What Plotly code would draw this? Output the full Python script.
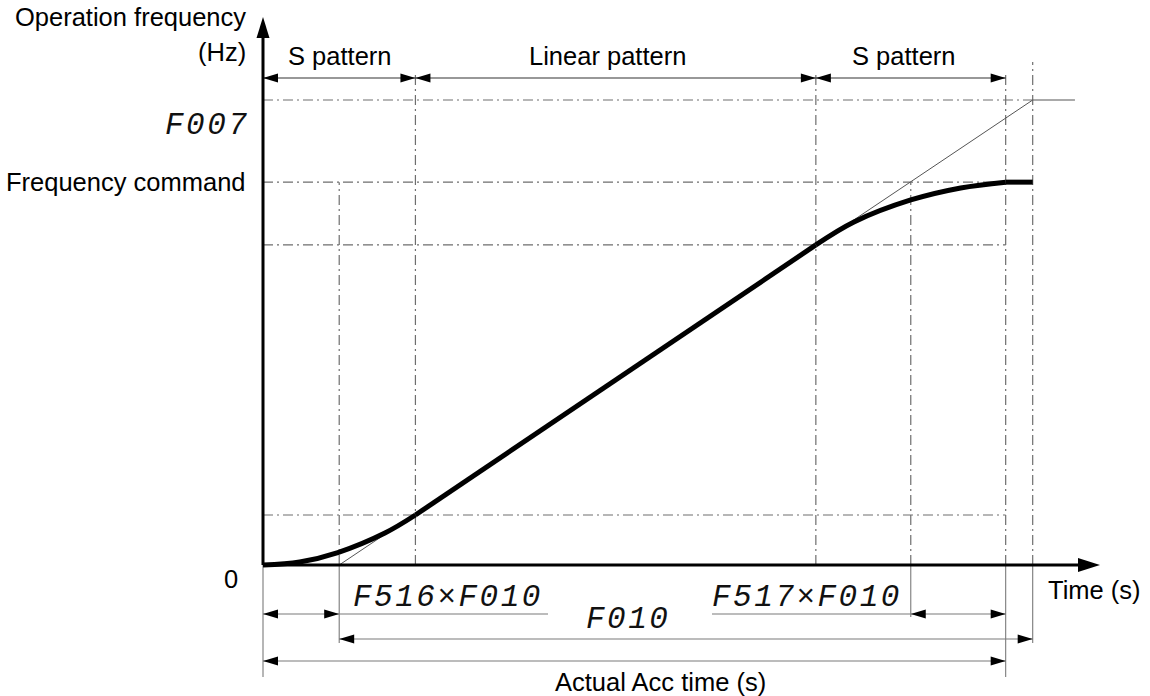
import plotly.graph_objects as go

# ---- acceleration profile: time (s) vs. output frequency (Hz) ----
accel_t = [0.0, 0.53, 1.08, 1.76, 2.20]
accel_f = [0.0, 0.39, 1.61, 4.13, 6.45]
linear_t = [2.20, 7.98]
linear_f = [6.45, 41.3]
decel_t = [7.98, 8.53, 9.35, 10.07, 10.72]
decel_f = [41.3, 44.26, 47.1, 48.65, 49.4]
hold_t = [10.72, 11.11]
hold_f = [49.4, 49.4]

# reference ramp set by F007 (max frequency) and F010 (acc time)
ramp_t = [1.10, 11.11, 11.72]
ramp_f = [0.0, 60.0, 60.0]

# characteristic levels (Hz) and instants (s)
f_max = 60.0          # F007
f_cmd = 49.4          # frequency command
f_lin_end = 41.3
f_s_start_end = 6.45
t_s516 = 1.10         # F516 x F010
t_s_start_end = 2.20
t_lin_end = 7.98
t_cmd_cross = 9.35
t_actual = 10.72      # actual acceleration time
t_f010 = 11.11        # end of the F010 ramp

# ---- canvas scale ----
W, H = 1150, 696
X0, Y0 = 263, 565          # origin on the page
PXS, PYH = 69.28, 7.75     # pixels per second / per Hz


def tx(px):
    return (px - X0) / PXS


def fy(py):
    return (Y0 - py) / PYH


shapes = []
GUIDE = dict(color="#6e6e6e", width=1.2, dash="10px,4px,2px,4px")
THIN = dict(color="#7a7a7a", width=1.1)


def seg(x0, y0, x1, y1, line, layer="below"):
    shapes.append(dict(type="line", xref="x", yref="y", x0=x0, y0=y0,
                       x1=x1, y1=y1, line=line, layer=layer))


def head(x, y, direction, L=15, Wd=9, color="black"):
    hl, hw = L / PXS, Wd / 2 / PYH
    vl, vw = L / PYH, Wd / 2 / PXS
    if direction == "r":
        pts = [(x, y), (x - hl, y + hw), (x - hl, y - hw)]
    elif direction == "l":
        pts = [(x, y), (x + hl, y + hw), (x + hl, y - hw)]
    elif direction == "u":
        pts = [(x, y), (x - vw, y - vl), (x + vw, y - vl)]
    else:
        pts = [(x, y), (x - vw, y + vl), (x + vw, y + vl)]
    path = "M " + " L ".join(f"{a:.5f},{b:.5f}" for a, b in pts) + " Z"
    shapes.append(dict(type="path", xref="x", yref="y", path=path,
                       fillcolor=color, line=dict(width=0), layer="above"))


def dim(xa, xb, y, line):
    seg(xa, y, xb, y, line, layer="above")
    head(xa, y, "l")
    head(xb, y, "r")


# dash-dot guide lines
for lvl in (f_cmd, f_lin_end, f_s_start_end):
    seg(0, lvl, t_actual, lvl, GUIDE)
seg(0, f_max, t_f010, f_max, GUIDE)

y_top = fy(78)
for t in (t_s_start_end, t_lin_end, t_actual):
    seg(t, 0, t, fy(75), GUIDE)
seg(t_f010, 0, t_f010, fy(62), GUIDE)
for t in (t_s516, t_cmd_cross):
    seg(t, 0, t, f_cmd, GUIDE)

# extension lines below the time axis
seg(0, 0, 0, fy(677), THIN)
seg(t_s516, 0, t_s516, fy(643), THIN)
seg(t_cmd_cross, 0, t_cmd_cross, fy(617), THIN)
seg(t_actual, 0, t_actual, fy(677), THIN)
seg(t_f010, 0, t_f010, fy(643), THIN)

# pattern spans along the top
TOPLINE = dict(color="#333333", width=1.1)
dim(0, t_s_start_end, y_top, TOPLINE)
dim(t_s_start_end, t_lin_end, y_top, TOPLINE)
dim(t_lin_end, t_actual, y_top, TOPLINE)

# time spans below the axis
y_r1, y_r2, y_r3 = fy(614), fy(639), fy(661)
dim(0, t_s516, y_r1, THIN)
seg(t_s516, y_r1, tx(548), y_r1, THIN, layer="above")
seg(tx(712), y_r1, t_cmd_cross, y_r1, THIN, layer="above")
dim(t_cmd_cross, t_actual, y_r1, THIN)
dim(t_s516, t_f010, y_r2, THIN)
dim(0, t_actual, y_r3, THIN)

# axes with arrow tips
AX = dict(color="black", width=3)
seg(0, 0, tx(1080), 0, AX, layer="above")
seg(0, 0, 0, fy(36), AX, layer="above")
head(tx(1100), 0, "r", L=22, Wd=14)
head(0, fy(17), "u", L=21, Wd=13)

fig = go.Figure()
fig.add_trace(go.Scatter(x=ramp_t, y=ramp_f, mode="lines",
                         line=dict(color="#555555", width=1), hoverinfo="skip"))
CURVE = dict(color="black", width=5)
fig.add_trace(go.Scatter(x=accel_t, y=accel_f, mode="lines",
                         line=dict(shape="spline", smoothing=1, **CURVE)))
fig.add_trace(go.Scatter(x=linear_t, y=linear_f, mode="lines", line=CURVE))
fig.add_trace(go.Scatter(x=decel_t, y=decel_f, mode="lines",
                         line=dict(shape="spline", smoothing=1, **CURVE)))
fig.add_trace(go.Scatter(x=hold_t, y=hold_f, mode="lines", line=CURVE))

SANS = dict(family="Liberation Sans, Arial, sans-serif", size=25.5, color="black")
SEG = dict(family="Liberation Mono, monospace", size=31, color="#111111",
           style="italic")

ann = []


def label(text, x, y, xanchor="center", font=SANS):
    ann.append(dict(text=text, x=x, y=y, xref="x", yref="y", showarrow=False,
                    xanchor=xanchor, yanchor="middle", font=font))


def segtext(s):
    return f'<span style="letter-spacing:2.5px">{s}</span>'


label("Operation frequency", tx(248), fy(17), "right")
label("(Hz)", tx(248), fy(52), "right")
label(segtext("F007"), tx(251), fy(125), "right", SEG)
label("Frequency command", tx(248), f_cmd, "right")
label("0", tx(231), fy(579))
label("Time (s)", tx(1046), fy(590), "left")
label("S pattern", t_s_start_end / 2, fy(56))
label("Linear pattern", tx(607), fy(56))
label("S pattern", tx(903), fy(56))
label(segtext("F516×F010"), tx(351), fy(597), "left", SEG)
label(segtext("F010"), tx(628), fy(619), "center", SEG)
label(segtext("F517×F010"), tx(710), fy(597), "left", SEG)
label("Actual Acc time (s)", tx(660), fy(682))

fig.update_layout(
    width=W, height=H, autosize=False,
    margin=dict(l=0, r=0, t=0, b=0),
    paper_bgcolor="white", plot_bgcolor="white",
    showlegend=False,
    xaxis=dict(range=[-X0 / PXS, (W - X0) / PXS], visible=False, fixedrange=True),
    yaxis=dict(range=[-(H - Y0) / PYH, Y0 / PYH], visible=False, fixedrange=True),
    shapes=shapes, annotations=ann,
)

fig.write_html("out.html")
